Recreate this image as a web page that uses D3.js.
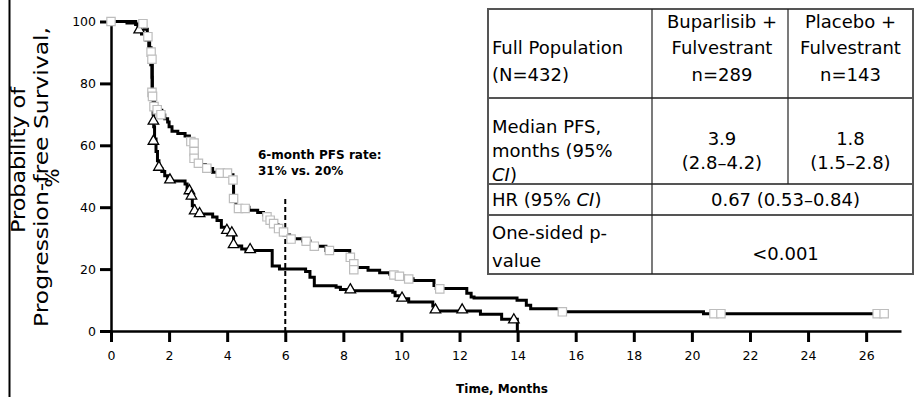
<!DOCTYPE html>
<html>
<head>
<meta charset="utf-8">
<script src="https://cdn.jsdelivr.net/npm/d3@7"></script>
<style>
  html, body { margin: 0; padding: 0; background: #fff; }
  svg { display: block; font-family: "Comic Sans MS", "DejaVu Sans", sans-serif; }
</style>
</head>
<body>
<svg id="chart" width="915" height="397"></svg>
<script>
// Axis ticks
const monthTicks = [0, 2, 4, 6, 8, 10, 12, 14, 16, 18, 20, 22, 24, 26];
const pctTicks = [0, 20, 40, 60, 80, 100];

// Kaplan-Meier steps: [month, % progression-free] at each change
const buparlisibSteps = [
  [0, 100], [0.55, 99.5], [0.85, 99.2], [1.15, 97.5], [1.25, 95], [1.33, 91.5], [1.38, 88],
  [1.41, 82], [1.42, 77], [1.45, 75], [1.5, 72.5], [1.6, 71.3], [1.75, 69.8], [1.85, 68.6],
  [1.95, 67.5], [2.0, 66], [2.1, 64.5], [2.3, 63.8], [2.55, 63], [2.7, 62], [2.78, 60.5],
  [2.85, 57.5], [2.95, 55], [3.05, 53.8], [3.25, 52.5], [3.5, 51.3], [4.1, 50.5], [4.2, 48.5],
  [4.22, 42.5], [4.3, 40], [4.75, 39], [5.05, 38.3], [5.25, 37.5], [5.4, 36.3], [5.5, 35.3],
  [5.6, 34.3], [5.75, 33], [5.88, 32], [5.95, 31], [6.15, 29.8], [6.6, 29.1], [6.85, 28.2],
  [7.0, 27.4], [7.4, 26], [8.22, 24], [8.28, 22.5], [8.34, 20.5], [8.85, 19.6], [9.25, 18.8],
  [9.6, 18.3], [9.85, 17.7], [10.1, 16.9], [10.4, 16.3], [11.12, 14.7], [11.2, 13.7],
  [12.25, 12.2], [12.4, 11], [12.5, 10.7], [13.98, 9.9], [14.3, 8.3], [14.45, 7.2],
  [15.45, 6.2], [20.4, 5.6], [26.62, 5.6]
];
const placeboSteps = [
  [0, 100], [0.85, 99], [0.93, 97], [1.05, 96], [1.2, 94], [1.3, 91], [1.37, 86], [1.42, 78],
  [1.45, 70], [1.47, 66], [1.5, 62], [1.55, 58], [1.6, 55], [1.65, 52.5], [1.75, 51.5],
  [1.85, 50.2], [1.95, 49], [2.0, 48.5], [2.55, 47.5], [2.62, 46], [2.68, 44.5], [2.76, 43],
  [2.8, 40.5], [2.86, 38.5], [2.98, 37.8], [3.5, 36.8], [3.65, 35.7], [3.8, 33.5], [3.95, 32.2],
  [4.12, 31.4], [4.22, 27.5], [4.5, 26.5], [4.65, 26], [5.55, 21], [5.8, 20], [6.7, 19.2],
  [6.85, 17.4], [7.0, 14.6], [7.75, 14.1], [7.9, 13.4], [8.3, 13], [9.7, 12.5], [9.78, 11.4],
  [9.95, 10.4], [10.25, 9.4], [11.08, 8.1], [11.15, 6.5], [12.72, 5.4], [13.45, 3.8], [13.99, 0]
];

// Censored observations: [month, %]
const buparlisibCensored = [
  [0, 100], [1.1, 99.3], [1.27, 95.1], [1.38, 90.1], [1.41, 87.8], [1.41, 77.1], [1.43, 75.8],
  [1.48, 72.5], [1.59, 71.5], [1.72, 69.9], [2.75, 61.2], [2.86, 60.7], [2.86, 58], [2.86, 55.8],
  [3.01, 54.2], [3.3, 52.6], [3.76, 51], [4.01, 51], [4.2, 48.8], [4.22, 42.8], [4.39, 39.6],
  [4.62, 39.6], [5.37, 36.9], [5.48, 35.8], [5.6, 34.7], [5.77, 33.1], [5.94, 32], [6.2, 29.7],
  [6.72, 29], [7.0, 27.4], [7.52, 26], [8.24, 23.8], [8.36, 21.7], [8.36, 19.8], [9.74, 18.1],
  [9.93, 17.7], [10.25, 16.8], [11.32, 13.6], [15.54, 6.2], [20.76, 5.6], [21.0, 5.6],
  [26.38, 5.6], [26.62, 5.6]
];
const placeboCensored = [
  [0.97, 97], [1.46, 67.5], [1.46, 61], [1.65, 52.6], [2.03, 48.5], [2.7, 45], [2.77, 43.3],
  [2.88, 38.5], [3.05, 37.6], [3.99, 32.2], [4.16, 31.4], [4.22, 27.6], [4.79, 26], [8.24, 13],
  [10.02, 10.3], [11.17, 6.5], [12.09, 6.5], [13.87, 3.3]
];

// 6-month landmark
const landmarkMonth = 6;
const landmarkText = ["6-month PFS rate:", "31% vs. 20%"];

// Axis titles
const yTitleLines = ["Probability of", "Progression-free Survival,", "%"];
const xTitle = "Time, Months";

// Summary table
const tableRows = [
  { label: ["Full Population", "(N=432)"],
    cells: [["Buparlisib +", "Fulvestrant", "n=289"], ["Placebo +", "Fulvestrant", "n=143"]] },
  { label: ["Median PFS,", "months (95%", "CI)"],
    cells: [["3.9", "(2.8–4.2)"], ["1.8", "(1.5–2.8)"]] },
  { label: ["HR (95% CI)"], merged: ["0.67 (0.53–0.84)"] },
  { label: ["One-sided p-", "value"], merged: ["<0.001"] }
];

const svg = d3.select("#chart");

const x = d3.scaleLinear().domain([0, 27.2]).range([111, 901]);
const y = d3.scaleLinear().domain([0, 100]).range([331, 21.5]);

// Axes
const yAxis = svg.append("g")
  .attr("transform", `translate(${x(0)},0)`)
  .call(d3.axisLeft(y).tickValues(pctTicks).tickSize(11).tickSizeOuter(0).tickPadding(4));
const xAxis = svg.append("g")
  .attr("transform", `translate(0,${y(0)})`)
  .call(d3.axisBottom(x).tickValues(monthTicks).tickSize(11).tickSizeOuter(0).tickPadding(9));
[xAxis, yAxis].forEach(g => {
  g.select(".domain").attr("stroke", "#000").attr("stroke-width", 2.5);
  g.selectAll(".tick line").attr("stroke", "#000").attr("stroke-width", 3);
  g.selectAll(".tick text").attr("fill", "#000")
    .style("font-family", "'DejaVu Sans', sans-serif").style("font-size", "12.5px");
});

// Landmark line at 6 months
svg.append("line")
  .attr("x1", x(landmarkMonth)).attr("x2", x(landmarkMonth))
  .attr("y1", 199).attr("y2", y(0))
  .attr("stroke", "#000").attr("stroke-width", 2).attr("stroke-dasharray", "5,3");

svg.append("text")
  .attr("x", 258).attr("y", 159)
  .style("font-family", "'DejaVu Sans', sans-serif").style("font-size", "12px").style("font-weight", "bold")
  .selectAll("tspan").data(landmarkText).join("tspan")
  .attr("x", 258).attr("dy", (d, i) => i ? 16 : 0).text(d => d);

// Survival curves
const stepLine = d3.line().x(d => x(d[0])).y(d => y(d[1])).curve(d3.curveStepAfter);
svg.append("path").datum(placeboSteps)
  .attr("d", stepLine).attr("fill", "none").attr("stroke", "#000").attr("stroke-width", 3);
svg.append("path").datum(buparlisibSteps)
  .attr("d", stepLine).attr("fill", "none").attr("stroke", "#000").attr("stroke-width", 3);

svg.append("g").selectAll("path").data(placeboCensored).join("path")
  .attr("transform", d => `translate(${x(d[0])},${y(d[1]) - 1})`)
  .attr("d", d3.symbol().type(d3.symbolTriangle).size(48))
  .attr("fill", "#fff").attr("stroke", "#000").attr("stroke-width", 1.3);
svg.append("g").selectAll("path").data(buparlisibCensored).join("path")
  .attr("transform", d => `translate(${x(d[0])},${y(d[1])})`)
  .attr("d", d3.symbol().type(d3.symbolSquare).size(70))
  .attr("fill", "#fff").attr("stroke", "#bdbdbd").attr("stroke-width", 1.2);

// X axis title
svg.append("text")
  .attr("x", 502).attr("y", 393).attr("text-anchor", "middle")
  .style("font-family", "'DejaVu Sans', sans-serif").style("font-size", "12px").style("font-weight", "bold")
  .text(xTitle);

// Y axis title (three rotated lines)
const yTitlePos = [[25, 160, 146], [48, 177, 300], [59, 178, null]];
yTitleLines.forEach((line, i) => {
  const [bx, cy, len] = yTitlePos[i];
  const t = svg.append("text")
    .attr("transform", `translate(${bx},${cy}) rotate(-90)`)
    .attr("text-anchor", "middle")
    .style("font-size", "20px")
    .text(line);
  if (len) t.attr("textLength", len).attr("lengthAdjust", "spacingAndGlyphs");
});

// Left frame line
svg.append("line")
  .attr("x1", 9.5).attr("x2", 9.5).attr("y1", 0).attr("y2", 397)
  .attr("stroke", "#000").attr("stroke-width", 2);

// Summary table
const colX = [488, 652, 788, 913];
const rowY = [9, 98, 184, 215, 274];
const lineH = [26.5, 24, 24, 28];
// first-line baselines per row: [label column, value columns]
const firstBase = [[54, 27.5], [132.5, 144.5], [205.5, 205.5], [238.5, 259.5]];

const tbl = svg.append("g").style("font-size", "18px");
tbl.append("rect")
  .attr("x", colX[0]).attr("y", rowY[0])
  .attr("width", colX[3] - colX[0]).attr("height", rowY[4] - rowY[0])
  .attr("fill", "#fff").attr("stroke", "#555").attr("stroke-width", 2);
rowY.slice(1, 4).forEach(ry => {
  tbl.append("line").attr("x1", colX[0]).attr("x2", colX[3]).attr("y1", ry).attr("y2", ry)
    .attr("stroke", "#555").attr("stroke-width", 2);
});
tbl.append("line").attr("x1", colX[1]).attr("x2", colX[1]).attr("y1", rowY[0]).attr("y2", rowY[4])
  .attr("stroke", "#222").attr("stroke-width", 1.2);
tbl.append("line").attr("x1", colX[2]).attr("x2", colX[2]).attr("y1", rowY[0]).attr("y2", rowY[2])
  .attr("stroke", "#222").attr("stroke-width", 1.2);

// writes a line, setting "CI" in italics
function addLine(sel, str) {
  str.split(/(CI)/).filter(s => s.length).forEach(part => {
    const ts = sel.append("tspan").text(part);
    if (part === "CI") ts.style("font-style", "italic");
  });
}
function cellText(lines, cx, base, lh, anchor) {
  lines.forEach((ln, i) => {
    const t = tbl.append("text").attr("x", cx).attr("y", base + i * lh).attr("text-anchor", anchor);
    addLine(t, ln);
  });
}
tableRows.forEach((row, r) => {
  cellText(row.label, colX[0] + 4, firstBase[r][0], lineH[r], "start");
  if (row.cells) {
    row.cells.forEach((c, k) => {
      cellText(c, (colX[k + 1] + colX[k + 2]) / 2 + (k ? 0 : 2), firstBase[r][1], lineH[r], "middle");
    });
  } else {
    cellText(row.merged, (colX[1] + colX[3]) / 2 + 3, firstBase[r][1], lineH[r], "middle");
  }
});
</script>
</body>
</html>
